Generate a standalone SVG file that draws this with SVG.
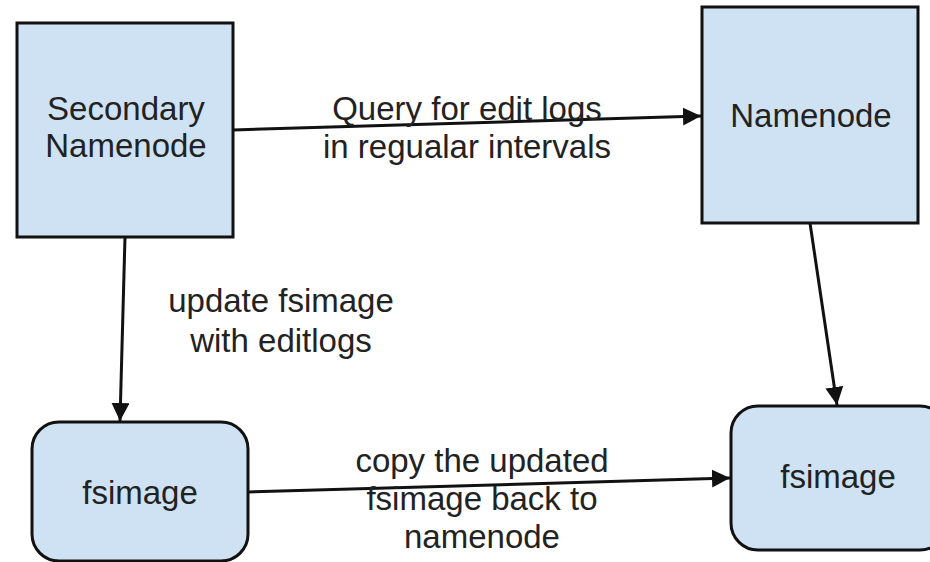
<svg xmlns="http://www.w3.org/2000/svg" width="930" height="562" viewBox="0 0 930 562">
<style>
.box{fill:#cfe2f3;stroke:#111;stroke-width:3}
text{font-family:"Liberation Sans",Arial,sans-serif;font-size:33px;fill:#222;text-anchor:middle}
.edge{stroke:#111;stroke-width:3;fill:none;marker-end:url(#ah)}
</style>
<defs>
<marker id="ah" viewBox="0 0 10 10" refX="10" refY="5" markerWidth="6" markerHeight="6" markerUnits="strokeWidth" orient="auto">
<path d="M0,0 L10,5 L0,10 z" fill="#111"/>
</marker>
</defs>
<rect width="930" height="562" fill="#fff"/>
<g id="secondary-namenode">
<rect class="box" x="17" y="23" width="216" height="214"/>
<text x="126" y="120">Secondary</text>
<text x="126" y="157">Namenode</text>
</g>
<g id="namenode">
<rect class="box" x="702" y="7" width="216" height="216"/>
<text x="811" y="127">Namenode</text>
</g>
<g id="fsimage-left">
<rect class="box" x="32" y="422" width="216" height="139" rx="27" ry="27"/>
<text x="140" y="504">fsimage</text>
</g>
<g id="fsimage-right">
<rect class="box" x="731" y="406" width="216" height="144" rx="27" ry="27"/>
<text x="838" y="488">fsimage</text>
</g>
<g id="connectors">
<line class="edge" x1="233" y1="130" x2="701" y2="116"/>
<line class="edge" x1="125" y1="237" x2="120" y2="421"/>
<line class="edge" x1="810" y1="223" x2="837" y2="405"/>
<line class="edge" x1="248" y1="492" x2="730" y2="478"/>
<text x="467" y="120">Query for edit logs</text>
<text x="467" y="158">in regualar intervals</text>
<text x="281" y="312">update fsimage</text>
<text x="281" y="352">with editlogs</text>
<text x="482" y="472">copy the updated</text>
<text x="482" y="510">fsimage back to</text>
<text x="482" y="548">namenode</text>
</g>
</svg>
